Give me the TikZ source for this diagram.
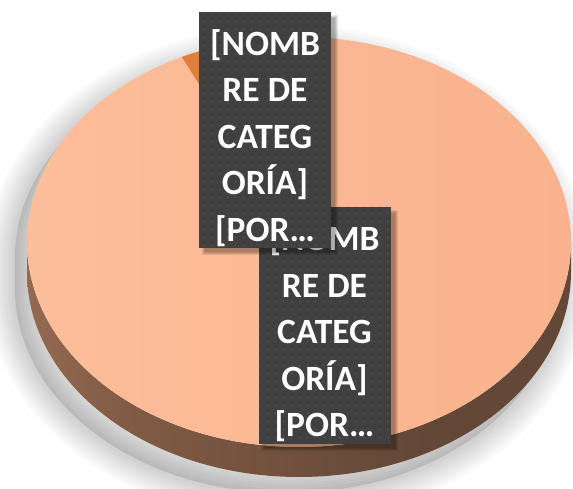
\documentclass[tikz,border=0pt]{standalone}
\usepackage{fontspec}
\setmainfont{Carlito}
\usetikzlibrary{patterns.meta}
\definecolor{facecol}{RGB}{249,178,141}
\definecolor{facelight}{RGB}{253,190,155}
\definecolor{sidelight}{RGB}{196,144,113}
\definecolor{sidemid}{RGB}{128,90,68}
\definecolor{sidedark}{RGB}{99,71,55}
\definecolor{wedgecol}{RGB}{224,128,56}
\definecolor{boxcol}{RGB}{64,64,64}
\definecolor{dotcol}{RGB}{82,82,82}
\pgfdeclarehorizontalshading{sideshade}{100bp}{color(0bp)=(sidelight); color(35bp)=(sidemid); color(62bp)=(sidedark); color(100bp)=(sidedark)}
\tikzdeclarepattern{name=lbldots, type=uncolored,
  bounding box={(0pt,0pt) and (8pt,8pt)}, tile size={(8pt,8pt)},
  code={\fill (4pt,4pt) circle (1.1pt);}}
\tikzset{
  lblbox/.style={preaction={fill=boxcol}, pattern=lbldots, pattern color=dotcol,
    minimum width=132pt, inner sep=0pt},
  lbltext/.style={inner sep=0pt, text=white, align=center,
    font=\bfseries\fontsize{35.5}{46.5}\selectfont},
  lblshadow/.style={fill=black, opacity=0.09},
}
\def\silhouette{(27,247) arc[start angle=180,end angle=0,x radius=272,y radius=205] -- (571,217) arc[start angle=0,end angle=-180,x radius=272,y radius=205] -- cycle}
\begin{document}
\begin{tikzpicture}[x=1pt,y=1pt]
\useasboundingbox (0,0) rectangle (573,489);
\fill[white] (0,0) rectangle (573,489);
% soft shadow of the pie
\begin{scope}[shift={(-12,-16)}]
  \foreach \w in {56,50,...,2}{
    \draw[black, opacity=0.018, line width=\w pt, line join=round] \silhouette;
  }
  \fill[black, opacity=0.1] \silhouette;
\end{scope}
% side of the cylinder
\shade[shading=sideshade] (27,247) arc[start angle=180,end angle=360,x radius=272,y radius=205]
  -- (571,217) arc[start angle=0,end angle=-180,x radius=272,y radius=205] -- cycle;
% top face
\shade[left color=facelight, right color=facecol] (299,247) ellipse[x radius=272, y radius=205];
% small slice
\fill[wedgecol] (299,247) -- ++(100:272 and 205) arc[start angle=100,end angle=115.5,x radius=272,y radius=205] -- cycle;
% label 2 (behind)
\foreach \w in {8,6,4,2}{
  \fill[lblshadow] (258+3-\w/2+4,45-3-\w/2) rectangle (391+3+\w/2,282-3+\w/2-4);
}
\node[lblbox, minimum height=237pt] (box2) at (324.5,163.5) {};
\node[lbltext] (txt2) at ([yshift=-8pt]box2.center) {{[NOMB}\\RE DE\\CATEG\\ORÍA]\\{[POR…}};
% label 1 (front)
\foreach \w in {8,6,4,2}{
  \fill[lblshadow] (199+3-\w/2+4,241-3-\w/2) rectangle (331+3+\w/2,477-3+\w/2-4);
}
\node[lblbox, minimum height=236pt] (box1) at (265,359) {};
\node[lbltext] (txt1) at ([yshift=-8pt]box1.center) {{[NOMB}\\RE DE\\CATEG\\ORÍA]\\{[POR…}};
\end{tikzpicture}
\end{document}
